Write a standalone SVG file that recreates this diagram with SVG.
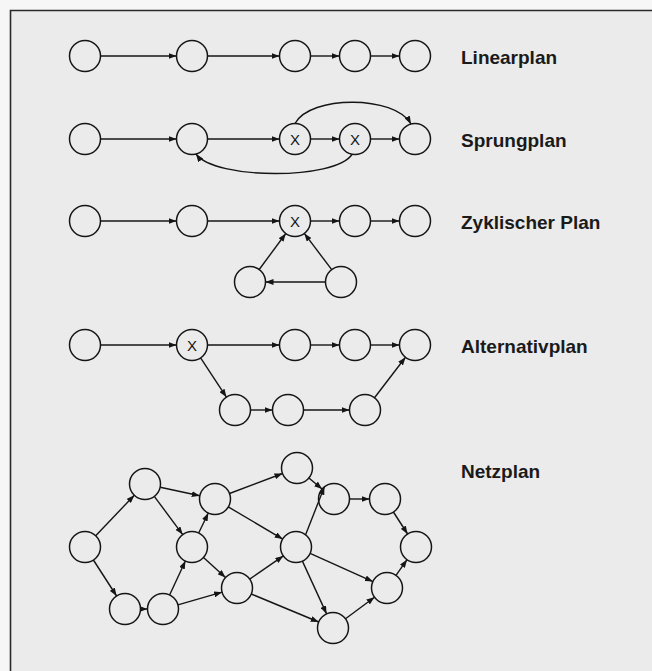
<svg xmlns="http://www.w3.org/2000/svg" width="652" height="671" viewBox="0 0 652 671">
  <style>
    .node circle { fill: none; stroke: #151515; stroke-width: 1.5; }
    .mark { font-family: "Liberation Sans", Arial, sans-serif; font-size: 15px; fill: #151515; text-anchor: middle; }
    .label { font-family: "Liberation Sans", Arial, sans-serif; font-size: 19px; font-weight: bold; fill: #1a1a1a; }
    .edges line, .edges path { fill: none; stroke: #151515; stroke-width: 1.4; marker-end: url(#arrow); }
  </style>
  <defs>
    <marker id="arrow" markerUnits="userSpaceOnUse" markerWidth="8" markerHeight="6" refX="8" refY="3" orient="auto">
      <path d="M0,0 L8,3 L0,6 z" fill="#151515"/>
    </marker>
  </defs>

  <!-- page and frame -->
  <rect x="0" y="0" width="652" height="671" fill="#f6f6f6"/>
  <rect x="10.5" y="10.5" width="642" height="661" fill="#ebebeb"/>
  <path d="M10.5,671 V10.5 H652" fill="none" stroke="#2a2a2a" stroke-width="1.6"/>

  <!-- Linearplan -->
  <g id="linear">
    <g id="lin-1" class="node"><circle cx="85" cy="56" r="15.5"/></g>
    <g id="lin-2" class="node"><circle cx="192" cy="56" r="15.5"/></g>
    <g id="lin-3" class="node"><circle cx="295" cy="56" r="15.5"/></g>
    <g id="lin-4" class="node"><circle cx="355" cy="56" r="15.5"/></g>
    <g id="lin-5" class="node"><circle cx="415" cy="56" r="15.5"/></g>
    <text class="label" x="461" y="64">Linearplan</text>
  </g>

  <!-- Sprungplan -->
  <g id="sprung">
    <g id="spr-1" class="node"><circle cx="85" cy="139" r="15.5"/></g>
    <g id="spr-2" class="node"><circle cx="192" cy="139" r="15.5"/></g>
    <g id="spr-3" class="node"><circle cx="295" cy="139" r="15.5"/><text class="mark" x="295" y="144.5">X</text></g>
    <g id="spr-4" class="node"><circle cx="355" cy="139" r="15.5"/><text class="mark" x="355" y="144.5">X</text></g>
    <g id="spr-5" class="node"><circle cx="415" cy="139" r="15.5"/></g>
    <text class="label" x="461" y="147">Sprungplan</text>
  </g>

  <!-- Zyklischer Plan -->
  <g id="zyklisch">
    <g id="zyk-1" class="node"><circle cx="85" cy="221" r="15.5"/></g>
    <g id="zyk-2" class="node"><circle cx="192" cy="221" r="15.5"/></g>
    <g id="zyk-3" class="node"><circle cx="295" cy="221" r="15.5"/><text class="mark" x="295" y="226.5">X</text></g>
    <g id="zyk-4" class="node"><circle cx="355" cy="221" r="15.5"/></g>
    <g id="zyk-5" class="node"><circle cx="415" cy="221" r="15.5"/></g>
    <g id="zyk-6" class="node"><circle cx="250" cy="282" r="15.5"/></g>
    <g id="zyk-7" class="node"><circle cx="341" cy="282" r="15.5"/></g>
    <text class="label" x="461" y="229">Zyklischer Plan</text>
  </g>

  <!-- Alternativplan -->
  <g id="alternativ">
    <g id="alt-1" class="node"><circle cx="85" cy="345" r="15.5"/></g>
    <g id="alt-2" class="node"><circle cx="192" cy="345" r="15.5"/><text class="mark" x="192" y="350.5">X</text></g>
    <g id="alt-3" class="node"><circle cx="295" cy="345" r="15.5"/></g>
    <g id="alt-4" class="node"><circle cx="355" cy="345" r="15.5"/></g>
    <g id="alt-5" class="node"><circle cx="415" cy="345" r="15.5"/></g>
    <g id="alt-6" class="node"><circle cx="235" cy="410" r="15.5"/></g>
    <g id="alt-7" class="node"><circle cx="288" cy="410" r="15.5"/></g>
    <g id="alt-8" class="node"><circle cx="365" cy="410" r="15.5"/></g>
    <text class="label" x="461" y="353">Alternativplan</text>
  </g>

  <!-- Netzplan -->
  <g id="netz">
    <g id="net-a" class="node"><circle cx="85" cy="547" r="15.5"/></g>
    <g id="net-b" class="node"><circle cx="145" cy="484" r="15.5"/></g>
    <g id="net-c" class="node"><circle cx="125" cy="609" r="15.5"/></g>
    <g id="net-d" class="node"><circle cx="163" cy="609" r="15.5"/></g>
    <g id="net-e" class="node"><circle cx="192" cy="547" r="15.5"/></g>
    <g id="net-f" class="node"><circle cx="215" cy="499" r="15.5"/></g>
    <g id="net-g" class="node"><circle cx="237" cy="588" r="15.5"/></g>
    <g id="net-h" class="node"><circle cx="297" cy="468" r="15.5"/></g>
    <g id="net-i" class="node"><circle cx="296" cy="547" r="15.5"/></g>
    <g id="net-j" class="node"><circle cx="334" cy="499" r="15.5"/></g>
    <g id="net-k" class="node"><circle cx="333" cy="628" r="15.5"/></g>
    <g id="net-l" class="node"><circle cx="385" cy="499" r="15.5"/></g>
    <g id="net-m" class="node"><circle cx="416" cy="547" r="15.5"/></g>
    <g id="net-n" class="node"><circle cx="387" cy="588" r="15.5"/></g>
    <text class="label" x="461" y="478">Netzplan</text>
  </g>

  <!-- connectors -->
  <g id="connectors" class="edges">
    <!-- Linearplan -->
    <line x1="100.5" y1="56" x2="176.5" y2="56"/>
    <line x1="207.5" y1="56" x2="279.5" y2="56"/>
    <line x1="310.5" y1="56" x2="339.5" y2="56"/>
    <line x1="370.5" y1="56" x2="399.5" y2="56"/>

    <!-- Sprungplan -->
    <line x1="100.5" y1="139" x2="176.5" y2="139"/>
    <line x1="207.5" y1="139" x2="279.5" y2="139"/>
    <line x1="310.5" y1="139" x2="339.5" y2="139"/>
    <line x1="370.5" y1="139" x2="399.5" y2="139"/>
    <path d="M295,123.5 C310,95 395,95 411,124"/>
    <path d="M352,154.5 C335,180 215,180 196,154"/>

    <!-- Zyklischer Plan -->
    <line x1="100.5" y1="221" x2="176.5" y2="221"/>
    <line x1="207.5" y1="221" x2="279.5" y2="221"/>
    <line x1="310.5" y1="221" x2="339.5" y2="221"/>
    <line x1="370.5" y1="221" x2="399.5" y2="221"/>
    <line x1="259.2" y1="269.5" x2="285.8" y2="233.5"/>
    <line x1="331.7" y1="269.6" x2="304.3" y2="233.4"/>
    <line x1="325.5" y1="282" x2="265.5" y2="282"/>

    <!-- Alternativplan -->
    <line x1="100.5" y1="345" x2="176.5" y2="345"/>
    <line x1="207.5" y1="345" x2="279.5" y2="345"/>
    <line x1="310.5" y1="345" x2="339.5" y2="345"/>
    <line x1="370.5" y1="345" x2="399.5" y2="345"/>
    <line x1="200.6" y1="357.9" x2="226.4" y2="397.1"/>
    <line x1="250.5" y1="410" x2="272.5" y2="410"/>
    <line x1="303.5" y1="410" x2="349.5" y2="410"/>
    <line x1="374.5" y1="397.7" x2="405.5" y2="357.3"/>

    <!-- Netzplan -->
    <line x1="95.7" y1="535.8" x2="134.3" y2="495.2"/>
    <line x1="93.4" y1="560" x2="116.6" y2="596"/>
    <line x1="140.5" y1="609" x2="147.5" y2="609"/>
    <line x1="160.2" y1="487.2" x2="199.8" y2="495.8"/>
    <line x1="154.3" y1="496.4" x2="182.7" y2="534.6"/>
    <line x1="169.6" y1="595" x2="185.4" y2="561"/>
    <line x1="177.9" y1="604.8" x2="222.1" y2="592.2"/>
    <line x1="198.7" y1="533" x2="208.3" y2="513"/>
    <line x1="203.5" y1="557.4" x2="225.5" y2="577.6"/>
    <line x1="229.5" y1="493.5" x2="282.5" y2="473.5"/>
    <line x1="228.3" y1="506.9" x2="282.7" y2="539.1"/>
    <line x1="249.7" y1="579.1" x2="283.3" y2="555.9"/>
    <line x1="251.3" y1="594" x2="318.7" y2="622"/>
    <line x1="308.9" y1="478" x2="322.1" y2="489"/>
    <line x1="305.6" y1="534.8" x2="324.4" y2="486.8"/>
    <line x1="310.1" y1="553.4" x2="372.9" y2="581.6"/>
    <line x1="302.4" y1="561.1" x2="326.6" y2="613.9"/>
    <line x1="349.5" y1="499" x2="369.5" y2="499"/>
    <line x1="393.4" y1="512" x2="407.6" y2="534"/>
    <line x1="345.5" y1="618.8" x2="374.5" y2="597.2"/>
    <line x1="396" y1="575.3" x2="407" y2="559.7"/>
  </g>
</svg>
